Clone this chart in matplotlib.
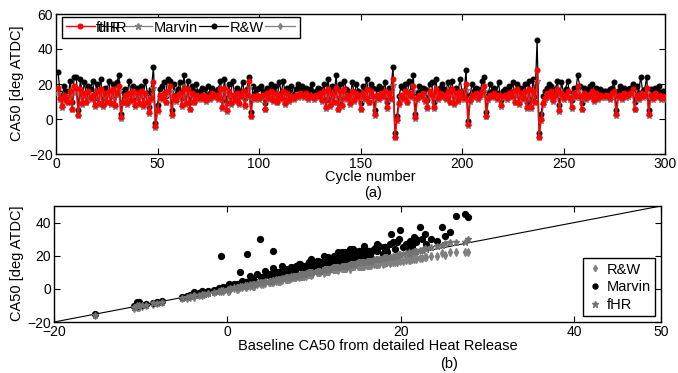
import matplotlib
matplotlib.use("Agg")
import matplotlib.pyplot as plt
from matplotlib.lines import Line2D

plt.rcParams['font.family'] = ['Liberation Sans', 'DejaVu Sans']
plt.rcParams['font.size'] = 10

# ---------------- data ----------------
cycles = list(range(1, 301))

ca50_fhr = [
    18, 12, 7.5, 14, 11, 10, 16, 6, 19, 18,
    2.5, 17, 9, 15, 10, 16, 12, 14, 8, 16,
    9, 17, 8, 15, 10, 16, 9, 17, 8, 15,
    19, 1, 10, 14, 9, 15, 11, 16, 8, 15,
    9, 16, 8, 15, 10, 4, 12, 21, -4, 5,
    14, 12, 15, 10, 16, 19, 3, 13, 11, 14,
    15, 8, 18, 9, 17, 6, 15, 10, 14, 12,
    13, 12, 14, 11, 13, 12, 15, 13, 14, 12,
    17, 7, 18, 5, 16, 9, 14, 11, 15, 9,
    13, 16, 8, 14, 22, 2, 13, 12, 14, 12,
    13, 14, 6, 15, 12, 16, 11, 15, 10, 14,
    12, 16, 9, 15, 11, 13, 12, 14, 13, 15,
    14, 13, 15, 12, 14, 13, 12, 14, 13, 15,
    11, 16, 7, 17, 8, 15, 10, 18, 6, 16,
    8, 17, 12, 14, 9, 16, 11, 15, 13, 6,
    15, 12, 17, 10, 16, 13, 3, 14, 12, 15,
    13, 16, 7, 15, 12, 23, -10, 0, 9, 14,
    12, 16, 10, 15, 13, 19, 1, 12, 14, 13,
    15, 11, 7, 16, 14, 7, 17, 12, 15, 13,
    14, 12, 16, 10, 17, 9, 15, 11, 16, 13,
    12, 20, -3, 11, 14, 13, 15, 12, 14, 16,
    19, 2, 12, 14, 13, 15, 12, 14, 8, 13,
    14, 12, 15, 13, 16, 10, 17, 9, 15, 12,
    16, 7, 17, 7, 16, 10, 28, -10, 0, 9,
    12, 15, 13, 16, 11, 14, 17, 5, 15, 12,
    14, 16, 12, 7, 15, 13, 19, 13, 6, 15,
    12, 14, 13, 16, 11, 15, 12, 14, 13, 13,
    14, 13, 12, 15, 16, 3, 13, 14, 12, 15,
    13, 14, 15, 17, 6, 14, 12, 15, 13, 14,
    18, 3, 14, 12, 15, 13, 14, 12, 13, 12,
]

ca50_black = [
    27, 15, 13, 19, 16, 13, 22, 10, 24, 24,
    5, 23, 14, 21, 13, 19, 17, 22, 12, 20,
    15, 23, 12, 18, 15, 22, 13, 20, 14, 21,
    25, 3, 16, 17, 13, 22, 14, 19, 12, 18,
    14, 19, 13, 22, 15, 7, 17, 30, -2, 8,
    17, 19, 21, 13, 23, 22, 5, 20, 14, 17,
    21, 12, 25, 14, 22, 10, 19, 16, 20, 15,
    16, 18, 17, 14, 19, 15, 18, 16, 15, 17,
    22, 11, 23, 9, 20, 13, 22, 14, 18, 13,
    16, 21, 12, 17, 24, 4, 19, 15, 17, 18,
    19, 16, 9, 18, 15, 20, 17, 19, 13, 21,
    15, 22, 13, 18, 16, 19, 14, 17, 20, 18,
    19, 16, 18, 15, 17, 20, 15, 16, 18, 17,
    15, 20, 11, 23, 12, 19, 14, 25, 9, 20,
    12, 22, 17, 16, 13, 21, 14, 20, 16, 9,
    19, 15, 23, 13, 20, 18, 5, 17, 19, 18,
    16, 21, 10, 18, 17, 30, -8, 2, 13, 19,
    18, 20, 14, 22, 16, 25, 3, 15, 19, 16,
    18, 17, 11, 20, 21, 10, 23, 15, 18, 20,
    17, 15, 21, 16, 22, 13, 18, 14, 23, 16,
    15, 28, -1, 14, 20, 16, 18, 17, 16, 22,
    24, 4, 15, 20, 16, 18, 15, 21, 11, 16,
    17, 16, 19, 15, 21, 14, 20, 13, 18, 15,
    20, 10, 22, 11, 23, 13, 45, -8, 3, 13,
    16, 18, 20, 19, 14, 17, 22, 8, 21, 15,
    17, 22, 15, 11, 18, 16, 25, 19, 9, 18,
    15, 17, 19, 20, 14, 18, 16, 17, 15, 16,
    16, 15, 17, 18, 21, 5, 16, 19, 15, 18,
    16, 17, 18, 20, 10, 19, 15, 24, 16, 17,
    24, 5, 17, 15, 18, 16, 19, 15, 16, 15,
]

ca50_gray = [
    15, 11, 6.5, 12.5, 10, 9, 14, 5, 16, 15,
    1.5, 14.5, 8, 13.5, 9, 14, 11, 12.5, 7, 14,
    8, 14.5, 7, 13.5, 9, 14, 8, 14.5, 7, 13.5,
    16, 0, 9, 12.5, 8, 13.5, 10, 14, 7, 13.5,
    8, 14, 7, 13.5, 9, 3, 11, 17.5, -5, 4,
    12.5, 11, 13.5, 9, 14, 16, 2, 12, 10, 12.5,
    13.5, 7, 15, 8, 14.5, 5, 13.5, 9, 12.5, 11,
    12, 11, 12.5, 10, 12, 11, 13.5, 12, 12.5, 11,
    14.5, 6, 15, 4, 14, 8, 12.5, 10, 13.5, 8,
    12, 14, 7, 12.5, 18.5, 1, 12, 11, 12.5, 11,
    12, 12.5, 5, 13.5, 11, 14, 10, 13.5, 9, 12.5,
    11, 14, 8, 13.5, 10, 12, 11, 12.5, 12, 13.5,
    12.5, 12, 13.5, 11, 12.5, 12, 11, 12.5, 12, 13.5,
    10, 14, 6, 14.5, 7, 13.5, 9, 15, 5, 14,
    7, 14.5, 11, 12.5, 8, 14, 10, 13.5, 12, 5,
    13.5, 11, 14.5, 9, 14, 12, 2, 12.5, 11, 13.5,
    12, 14, 6, 13.5, 11, 19.5, -11, -1, 8, 12.5,
    11, 14, 9, 13.5, 12, 16, 0, 11, 12.5, 12,
    13.5, 10, 6, 14, 12.5, 6, 14.5, 11, 13.5, 12,
    12.5, 11, 14, 9, 14.5, 8, 13.5, 10, 14, 12,
    11, 16.5, -4, 10, 12.5, 12, 13.5, 11, 12.5, 14,
    16, 1, 11, 12.5, 12, 13.5, 11, 12.5, 7, 12,
    12.5, 11, 13.5, 12, 14, 9, 14.5, 8, 13.5, 11,
    14, 6, 14.5, 6, 14, 9, 22, -11, -1, 8,
    11, 13.5, 12, 14, 10, 12.5, 14.5, 4, 13.5, 11,
    12.5, 14, 11, 6, 13.5, 12, 16, 12, 5, 13.5,
    11, 12.5, 12, 14, 10, 13.5, 11, 12.5, 12, 12,
    12.5, 12, 11, 13.5, 14, 2, 12, 12.5, 11, 13.5,
    12, 12.5, 13.5, 14.5, 5, 12.5, 11, 13.5, 12, 12.5,
    15, 2, 12.5, 11, 13.5, 12, 12.5, 11, 12, 11,
]

baseline = [
    17.2, 11.6, 7.3, 13.4, 10.7, 9.6, 15.3, 6.1, 18.2, 16.9,
    2.6, 16.1, 8.7, 14.2, 9.4, 15.4, 11.3, 13.6, 7.8, 15.2,
    8.4, 16.3, 7.6, 14.6, 9.7, 15.1, 8.8, 16.4, 7.9, 14.3,
    18.1, 1.2, 9.5, 13.3, 8.6, 14.4, 10.6, 15.5, 7.7, 14.1,
    8.5, 15.2, 7.8, 14.5, 9.3, 4.1, 11.4, 19.8, -3.9, 4.9,
    13.5, 11.2, 14.3, 9.6, 15.3, 18.4, 3.1, 12.4, 10.5, 13.2,
    14.6, 7.7, 17.1, 8.6, 16.2, 5.8, 14.2, 9.5, 13.6, 11.3,
    12.6, 11.4, 13.3, 10.4, 12.7, 11.5, 14.3, 12.2, 13.5, 11.7,
    16.3, 6.8, 17.2, 4.9, 15.4, 8.6, 13.2, 10.6, 14.5, 8.4,
    12.3, 15.6, 7.7, 13.4, 20.9, 2.1, 12.5, 11.3, 13.7, 11.5,
    12.4, 13.5, 5.9, 14.2, 11.6, 15.3, 10.4, 14.6, 9.7, 13.3,
    11.2, 15.5, 8.7, 14.3, 10.6, 12.5, 11.4, 13.6, 12.3, 14.4,
    13.4, 12.6, 14.2, 11.5, 13.7, 12.4, 11.3, 13.5, 12.2, 14.6,
    10.5, 15.3, 6.9, 16.2, 7.8, 14.4, 9.6, 17.3, 5.9, 15.4,
    7.7, 16.4, 11.5, 13.3, 8.6, 15.2, 10.4, 14.5, 12.6, 6.1,
    14.3, 11.4, 16.1, 9.5, 15.5, 12.3, 3.0, 13.4, 11.6, 14.2,
    12.5, 15.2, 6.8, 14.4, 11.3, 21.8, -10.2, 0.1, 8.6, 13.3,
    11.5, 15.4, 9.6, 14.3, 12.4, 18.2, 1.1, 11.3, 13.5, 12.6,
    14.5, 10.3, 6.9, 15.2, 13.4, 7.1, 16.3, 11.4, 14.2, 12.5,
    13.3, 11.6, 15.3, 9.4, 16.5, 8.7, 14.4, 10.6, 15.2, 12.3,
    11.4, 19.1, -2.9, 10.5, 13.6, 12.4, 14.3, 11.5, 13.2, 15.4,
    18.3, 2.1, 11.5, 13.4, 12.3, 14.5, 11.2, 13.6, 7.8, 12.4,
    13.5, 11.3, 14.4, 12.6, 15.3, 9.5, 16.2, 8.7, 14.3, 11.4,
    15.3, 6.8, 16.4, 7.1, 15.2, 9.6, 27.4, -10.4, 0.2, 8.6,
    11.5, 14.3, 12.4, 15.5, 10.5, 13.4, 16.3, 5.1, 14.2, 11.6,
    13.4, 15.3, 11.5, 6.9, 14.5, 12.3, 18.2, 12.5, 6.0, 14.3,
    11.3, 13.5, 12.4, 15.4, 10.6, 14.3, 11.5, 13.4, 12.6, 12.3,
    13.6, 12.3, 11.4, 14.2, 15.5, 3.1, 12.5, 13.3, 11.5, 14.4,
    12.4, 13.5, 14.3, 16.2, 5.9, 13.4, 11.6, 14.5, 12.3, 13.6,
    17.3, 3.0, 13.5, 11.4, 14.2, 12.6, 13.4, 11.5, 12.4, 11.3,
]

# additional operating-point cycles shown only in panel (b)
extra_baseline = [-15.3, -10.8, -10.3, -9.8, -9.4, -8.6, -8.1, -7.5, -5.2, -4.7,
                  -4.3, -3.8, -3.3, -2.7, -2.2, -1.6, -1.0, -0.5,
                  -0.7, 1.4, 2.2, 3.8, 5.3,
                  18.9, 19.9, 22.2, 24.7, 25.7, 26.4, 27.7, 23.5, 21.5, 24.2, 22.8, 25.1,
                  0.3, 0.8, 1.1, 1.7, 2.0, 2.6, 3.0, 3.4, 3.9, 4.3, 4.8, 5.2, 5.6, 6.3,
                  17.5, 18.2, 18.7, 19.3, 19.6, 20.2, 20.6, 21.0, 21.3, 21.8, 22.4, 22.9, 17.9, 20.9,
                  8.2, 9.6, 11.1, 12.8, 14.1, 15.7, 6.9, 9.1]
extra_black = [-15.1, -10.6, -10.1, -9.6, -9.2, -8.4, -7.9, -7.3, -5.0, -4.5,
               -4.0, -3.4, -2.8, -2.0, -1.3, -0.4, 0.4, 1.2,
               19.6, 10.0, 20.8, 29.9, 23.0,
               33.0, 35.5, 37.1, 37.5, 34.3, 44.1, 43.2, 30.0, 31.0, 29.0, 33.0, 32.0,
               1.5, 3.0, 2.5, 5.0, 4.0, 7.5, 6.0, 9.0, 7.0, 11.0, 8.5, 12.5, 10.0, 14.0,
               26, 23, 27, 24, 28, 25, 27, 29, 26, 28, 30, 27, 21, 23,
               15, 18, 20, 22, 24, 26, 12, 10.5]
extra_fhr = [-15.5, -11.0, -10.5, -10.0, -9.6, -8.8, -8.3, -7.7, -5.4, -4.9,
             -4.5, -4.0, -3.5, -2.9, -2.4, -1.8, -1.2, -0.7,
             -0.5, 1.6, 2.4, 4.0, 5.5,
             19.5, 21.0, 23.5, 26.5, 28.0, 28.0, 30.0, 25.0, 22.8, 25.6, 24.4, 27.4,
             0.4, 0.9, 1.3, 1.9, 2.2, 2.8, 3.2, 3.6, 4.1, 4.5, 5.0, 5.4, 5.9, 6.5,
             18.0, 18.8, 19.3, 20.0, 20.4, 21.0, 21.5, 21.9, 22.3, 22.8, 23.5, 24.0, 18.5, 21.7,
             8.4, 9.8, 11.4, 13.1, 14.5, 16.1, 7.1, 9.3]
extra_gray = [-15.7, -11.3, -10.8, -10.3, -9.9, -9.1, -8.6, -8.0, -5.8, -5.3,
              -4.9, -4.4, -3.9, -3.2, -2.7, -2.1, -1.5, -1.0,
              -1.0, 1.0, 1.8, 3.3, 4.6,
              16.5, 17.0, 18.5, 21.4, 22.2, 22.3, 22.2, 19.8, 18.2, 19.7, 19.3, 20.5,
              0.0, 0.4, 0.7, 1.3, 1.5, 2.1, 2.4, 2.8, 3.2, 3.6, 4.0, 4.4, 4.8, 5.4,
              14.8, 15.4, 15.8, 16.3, 16.5, 17.0, 17.3, 17.6, 17.9, 18.3, 18.8, 19.2, 15.2, 17.6,
              7.2, 8.4, 9.6, 11.1, 12.2, 13.5, 6.1, 7.9]

legend_top = ["fHR", "Marvin", "R&W", ""]
legend_bottom = ["R&W", "Marvin", "fHR"]

GRAY = (0.5, 0.5, 0.5)
DGRAY = (0.45, 0.45, 0.45)

# ---------------- figure ----------------
W, H = 678, 373
fig = plt.figure(figsize=(W / 100, H / 100), dpi=100)

def px_axes(l, r, t, b):
    return fig.add_axes([l / W, 1 - b / H, (r - l) / W, (b - t) / H])

ax1 = px_axes(56, 665, 14, 154)
ax2 = px_axes(54, 661, 206, 322)

for ax in (ax1, ax2):
    ax.tick_params(direction='in', top=True, right=True, length=4, width=0.8,
                   labelsize=10, pad=2)
    for s in ax.spines.values():
        s.set_linewidth(1.0)

# top panel
ax1.plot(cycles, ca50_black, '-o', color='black', lw=0.9, ms=3.3, zorder=2)
ax1.plot(cycles, ca50_gray, '-*', color=GRAY, lw=0.9, ms=3.8, zorder=3)
ax1.plot(cycles, ca50_fhr, '-o', color='red', lw=1.0, ms=3.3, zorder=4)
ax1.set_xlim(0, 300)
ax1.set_ylim(-20, 60)
ax1.set_xticks([0, 50, 100, 150, 200, 250, 300])
ax1.set_yticks([-20, 0, 20, 40, 60])

h_top = [
    Line2D([], [], color='red', marker='o', ms=3.3, lw=1.0),
    Line2D([], [], color=GRAY, marker='*', ms=4.5, lw=0.9),
    Line2D([], [], color='black', marker='o', ms=3.3, lw=0.9),
    Line2D([], [], color=GRAY, marker='d', ms=3.0, lw=0.9),
]
leg1 = ax1.legend(h_top, legend_top, ncol=4, loc='upper left',
                  bbox_to_anchor=(0.005, 1.0), fancybox=False, edgecolor='black',
                  framealpha=1, fontsize=10.5, handlelength=2.0, handletextpad=0.1,
                  columnspacing=0.1, borderpad=0.25, borderaxespad=0.2)
leg1.get_frame().set_linewidth(1.0)

# bottom panel
bx = baseline + extra_baseline
ax2.plot([-20, 50], [-20, 50], color='black', lw=0.8, zorder=1)
ax2.plot(bx, ca50_gray + extra_gray, 'd', color=GRAY, ms=3.6, mec=GRAY, zorder=2)
ax2.plot(bx, ca50_black + extra_black, 'o', color='black', ms=4.2, zorder=3)
ax2.plot(bx, ca50_fhr + extra_fhr, '*', color=DGRAY, ms=4.6, zorder=4)
ax2.set_xlim(-20, 50)
ax2.set_ylim(-20, 50)
ax2.set_xticks([-20, 0, 20, 40, 50])
ax2.set_yticks([-20, 0, 20, 40])

h_bot = [
    Line2D([], [], color=GRAY, marker='d', ms=3.2, ls='none'),
    Line2D([], [], color='black', marker='o', ms=3.6, ls='none'),
    Line2D([], [], color=DGRAY, marker='*', ms=4.5, ls='none'),
]
leg2 = ax2.legend(h_bot, legend_bottom, loc='lower right', fancybox=False,
                  edgecolor='black', framealpha=1, fontsize=10.5, handlelength=1.0,
                  handletextpad=0.3, borderpad=0.3, labelspacing=0.25,
                  borderaxespad=0.4)
leg2.get_frame().set_linewidth(1.0)

# labels
fig.text(17 / W, 1 - 83 / H, "CA50 [deg ATDC]", rotation=90, ha='center', va='center', fontsize=10.5)
fig.text(17 / W, 1 - 263 / H, "CA50 [deg ATDC]", rotation=90, ha='center', va='center', fontsize=10.5)
fig.text(370 / W, 1 - 177 / H, "Cycle number", ha='center', va='center', fontsize=10.5)
fig.text(373 / W, 1 - 193 / H, "(a)", ha='center', va='center', fontsize=10.5)
fig.text(378 / W, 1 - 346 / H, "Baseline CA50 from detailed Heat Release", ha='center', va='center', fontsize=10.5)
fig.text(449 / W, 1 - 364 / H, "(b)", ha='center', va='center', fontsize=10.5)

# overlapping legend label artefact of the original
fig.canvas.draw()
bb = leg1.get_texts()[0].get_window_extent()
fig.text(bb.x0 / W + 1.5 / W, bb.y0 / H, "dHR", ha='left', va='bottom', fontsize=10.5, zorder=10)

fig.savefig("out.png", dpi=100)
